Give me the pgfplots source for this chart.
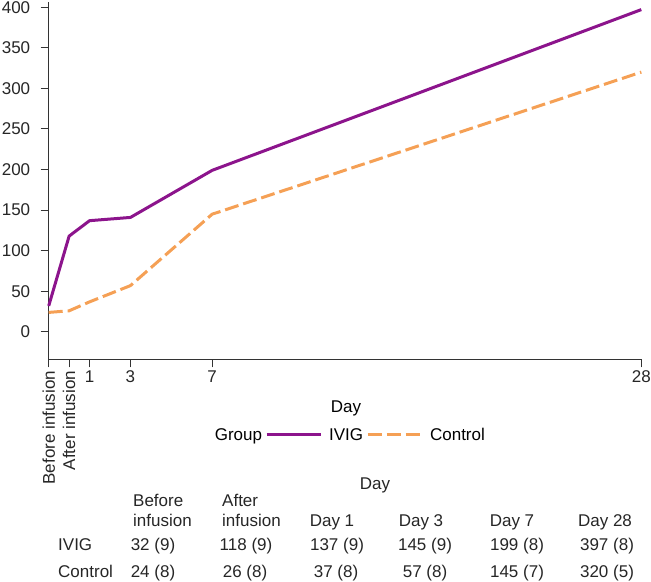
\documentclass[border=0pt]{standalone}
\usepackage{fontspec}
\setmainfont{Liberation Sans}
\usepackage{pgfplots}
\pgfplotsset{compat=1.18}

\definecolor{ivig}{RGB}{140,20,140}
\definecolor{ctrl}{RGB}{245,160,85}
\newcommand{\fs}{\fontsize{17bp}{20bp}\selectfont}

\begin{document}
\begin{tikzpicture}
\useasboundingbox (0,0) rectangle (651bp,582bp);
\begin{axis}[
  at={(48.7bp,222.5bp)}, anchor=south west,
  scale only axis, width=592.6bp, height=357.2bp,
  xmin=-1, xmax=28, ymin=-34, ymax=406,
  axis x line*=bottom, axis y line*=left,
  axis line style={line width=1.1bp, black!80, -},
  tick align=outside, major tick length=8bp,
  tick style={line width=1.1bp, black!80},
  xtick={-1,0,1,3,7,28},
  xticklabels={\rotatebox{90}{Before infusion},\rotatebox{90}{After infusion},1,3,7,28},
  ytick={0,50,...,400},
  /pgf/number format/assume math mode=true,
  tick label style={font=\fs, text=black!85},
  xticklabel style={anchor=north},
  yticklabel style={anchor=east, xshift=-7bp},
  xlabel={Day},
  xlabel style={at={(axis description cs:0.5017,-0.147)}, anchor=base, inner sep=0pt, font=\fs},
  legend style={at={(axis description cs:0.504,-0.211)}, anchor=center, draw=none, fill=none,
    font=\fs, legend columns=-1,
    /tikz/every even column/.append style={column sep=1bp},
    /tikz/every odd column/.append style={column sep=5bp}},
  legend image code/.code={\draw[#1] (0bp,0bp) -- (54bp,0bp);},
  clip=false,
]
\addlegendimage{empty legend}
\addlegendentry{Group}
\addplot[ivig, line width=3bp, line join=round] coordinates {
  (-1,32) (0,118) (1,137) (3,141) (7,199) (28,397)
};
\addlegendentry{IVIG}
\addplot[ctrl, line width=3bp, dash pattern=on 14bp off 5bp] coordinates {
  (-1,24) (0,26) (1,37) (3,57) (7,145) (28,320)
};
\addlegendentry{Control}
\end{axis}

\begin{scope}[every node/.style={inner sep=0pt, font=\fs, text=black!85}]
\node[anchor=base] at (375bp,92bp) {Day};
\node[anchor=base west] at (133bp,75bp) {Before};
\node[anchor=base west] at (133bp,55.5bp) {infusion};
\node[anchor=base west] at (222bp,75bp) {After};
\node[anchor=base west] at (222bp,55.5bp) {infusion};
\node[anchor=base] at (332bp,55.5bp) {Day 1};
\node[anchor=base] at (421bp,55.5bp) {Day 3};
\node[anchor=base] at (512bp,55.5bp) {Day 7};
\node[anchor=base] at (605bp,55.5bp) {Day 28};
\node[anchor=base west] at (58bp,32bp) {IVIG};
\node[anchor=base west] at (58bp,5bp) {Control};
\node[anchor=base] at (153bp,32bp) {32 (9)};
\node[anchor=base] at (246bp,32bp) {118 (9)};
\node[anchor=base] at (337bp,32bp) {137 (9)};
\node[anchor=base] at (425bp,32bp) {145 (9)};
\node[anchor=base] at (517bp,32bp) {199 (8)};
\node[anchor=base] at (607bp,32bp) {397 (8)};
\node[anchor=base] at (153bp,5bp) {24 (8)};
\node[anchor=base] at (245bp,5bp) {26 (8)};
\node[anchor=base] at (336bp,5bp) {37 (8)};
\node[anchor=base] at (425bp,5bp) {57 (8)};
\node[anchor=base] at (517bp,5bp) {145 (7)};
\node[anchor=base] at (607bp,5bp) {320 (5)};
\end{scope}
\end{tikzpicture}
\end{document}
